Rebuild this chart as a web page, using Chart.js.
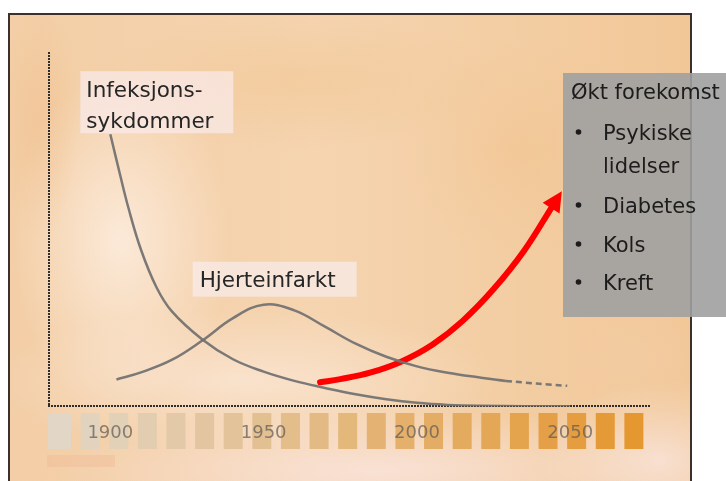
<!DOCTYPE html>
<html>
<head>
<meta charset="utf-8">
<script src="https://cdn.jsdelivr.net/npm/chart.js@4/dist/chart.umd.min.js"></script>
<style>
  html, body { margin: 0; padding: 0; background: #fff; overflow: hidden; }
  canvas { display: block; }
</style>
</head>
<body>
<canvas id="chart" width="726" height="481"></canvas>
<script>
// Year ticks on the time axis
const tickYears = [1900, 1950, 2000, 2050];

// Infectious diseases: steep fall early in the century
const infectionYears  = [1900, 1903, 1906, 1910, 1915, 1920, 1930, 1940, 1950, 1960, 1970, 1980, 1990, 2000, 2010, 2020, 2050];
const infectionValues = [76.8, 66.0, 55.7, 44.2, 33.7, 26.9, 18.9, 13.3, 9.8, 7.2, 5.2, 3.4, 2.0, 1.0, 0.42, 0.17, 0.03];

// Heart attacks: rise, peak mid-century, decline (projection after 2029)
const heartYears  = [1902, 1910, 1920, 1930, 1940, 1950, 1960, 1970, 1980, 1990, 2000, 2010, 2020, 2029, 2049];
const heartValues = [7.6, 9.6, 13.1, 18.6, 24.9, 28.7, 27.1, 22.5, 17.7, 14.0, 11.3, 9.5, 8.2, 7.2, 5.8];
const heartProjectedFrom = 2029;

// Rising occurrence of chronic conditions
const trendYears  = [1968.4, 1975, 1985, 1995, 2005, 2015, 2025, 2035, 2044.1];
const trendValues = [6.8, 7.7, 9.6, 12.7, 17.4, 24.2, 33.1, 44.0, 56.4];

// Text
const infectionLabel = ['Infeksjons-', 'sykdommer'];
const heartLabel = 'Hjerteinfarkt';
const boxTitle = 'Økt forekomst';
const boxItems = [['Psykiske', 'lidelser'], ['Diabetes'], ['Kols'], ['Kreft']];

const FONT = '"DejaVu Sans", Verdana, sans-serif';
const GREY_LINE = 'rgba(112,112,112,0.92)';

const toPoints = (xs, ys) => xs.map((x, i) => ({ x, y: ys[i] }));

// Watercolour-like paper, frame and the strip of year blocks
const backdrop = {
  id: 'backdrop',
  beforeDraw(chart) {
    const { ctx, width, height, chartArea } = chart;
    ctx.save();
    ctx.fillStyle = '#fff';
    ctx.fillRect(0, 0, width, height);

    const fx = 9, fy = 14, fw = 682, fh = height - fy + 6;
    ctx.beginPath();
    ctx.rect(fx, fy, fw, fh);
    ctx.clip();

    const g = ctx.createLinearGradient(fx, 0, fx + fw, 0);
    g.addColorStop(0, '#f3cea6');
    g.addColorStop(0.45, '#f5d4b0');
    g.addColorStop(1, '#f1c797');
    ctx.fillStyle = g;
    ctx.fillRect(fx, fy, fw, fh);

    const blot = (x, y, rx, ry, rgb, a) => {
      ctx.save();
      ctx.translate(x, y);
      ctx.scale(1, ry / rx);
      const rg = ctx.createRadialGradient(0, 0, 0, 0, 0, rx);
      rg.addColorStop(0, `rgba(${rgb},${a})`);
      rg.addColorStop(1, `rgba(${rgb},0)`);
      ctx.fillStyle = rg;
      ctx.fillRect(-rx, -rx, 2 * rx, 2 * rx);
      ctx.restore();
    };
    blot(120, 240, 110, 170, '255,244,236', 0.7);
    blot(240, 380, 260, 70, '252,236,224', 0.6);
    blot(380, 470, 330, 60, '250,230,226', 0.75);
    blot(660, 460, 120, 80, '250,232,228', 0.7);
    blot(300, 80, 200, 70, '240,190,130', 0.35);
    blot(520, 150, 120, 110, '240,188,128', 0.3);
    blot(640, 360, 80, 60, '244,206,170', 0.4);
    blot(40, 120, 40, 120, '238,184,130', 0.35);

    // soft salmon swatch below the first block
    ctx.fillStyle = 'rgba(240,186,150,0.45)';
    ctx.fillRect(47, 455, 68, 12);

    // year blocks
    const n = 21;
    const step = (chartArea.right - chartArea.left) / n;
    const c0 = [226, 214, 198], c1 = [229, 151, 48];
    for (let i = 0; i < n; i++) {
      const t = i / (n - 1);
      const c = c0.map((v, k) => Math.round(v + (c1[k] - v) * t));
      ctx.fillStyle = `rgb(${c[0]},${c[1]},${c[2]})`;
      const x = chartArea.left + i * step + (i === 0 ? -1 : 3);
      const w = i === 0 ? 23 : 19;
      ctx.fillRect(x, 413, w, 36);
    }
    ctx.restore();

    // frame
    ctx.save();
    ctx.strokeStyle = '#3b302a';
    ctx.lineWidth = 2;
    ctx.strokeRect(fx, fy, fw, fh);
    ctx.restore();
  }
};

// Dotted axis lines along the plot area's left and bottom edges
const dottedAxes = {
  id: 'dottedAxes',
  beforeDatasetsDraw(chart) {
    const { ctx, chartArea: a } = chart;
    const x0 = Math.round(a.left) - 1, y0 = Math.round(a.bottom) - 1;
    ctx.save();
    ctx.fillStyle = '#2f2d2b';
    for (let y = Math.round(a.top); y <= y0; y += 3) ctx.fillRect(x0, y, 2, 2);
    for (let x = x0; x <= Math.round(a.right); x += 3) ctx.fillRect(x, y0, 2, 2);
    ctx.restore();
  }
};

// Arrowhead at the end of the rising curve
const arrowHead = {
  id: 'arrowHead',
  afterDatasetsDraw(chart) {
    const pts = chart.getDatasetMeta(2).data;
    const a = pts[pts.length - 2], b = pts[pts.length - 1];
    const ang = Math.atan2(b.y - a.y, b.x - a.x);
    const dx = Math.cos(ang), dy = Math.sin(ang);
    const len = 20, half = 10;
    const bx = b.x - dx * 2, by = b.y - dy * 2;
    const { ctx } = chart;
    ctx.save();
    ctx.fillStyle = '#ff0000';
    ctx.beginPath();
    ctx.moveTo(bx + dx * len, by + dy * len);
    ctx.lineTo(bx - dy * half, by + dx * half);
    ctx.lineTo(bx + dy * half, by - dx * half);
    ctx.closePath();
    ctx.fill();
    ctx.restore();
  }
};

// Curve labels and the list box
const annotations = {
  id: 'annotations',
  afterDraw(chart) {
    const { ctx } = chart;
    ctx.save();
    ctx.textBaseline = 'alphabetic';
    ctx.textAlign = 'left';

    // infection label above the start of its curve
    const p0 = chart.getDatasetMeta(0).data[0];
    ctx.fillStyle = 'rgba(250,234,234,0.72)';
    ctx.fillRect(p0.x - 30, p0.y - 63, 153, 62);
    ctx.fillStyle = '#262626';
    ctx.font = `21.5px ${FONT}`;
    ctx.fillText(infectionLabel[0], p0.x - 24, p0.y - 37);
    ctx.fillText(infectionLabel[1], p0.x - 24, p0.y - 6);

    // heart label above the peak
    const hMeta = chart.getDatasetMeta(1).data;
    const peakIdx = heartValues.indexOf(Math.max(...heartValues));
    const pk = hMeta[peakIdx];
    ctx.fillStyle = 'rgba(250,236,234,0.72)';
    ctx.fillRect(pk.x - 71, pk.y - 43, 164, 35);
    ctx.fillStyle = '#262626';
    ctx.fillText(heartLabel, pk.x - 64, pk.y - 18);

    // grey list box
    ctx.fillStyle = 'rgba(160,160,160,0.9)';
    ctx.fillRect(563, 73, 170, 244);
    ctx.fillStyle = '#1c1c1c';
    ctx.font = `21px ${FONT}`;
    ctx.fillText(boxTitle, 571, 99);
    const baselines = [[140, 173], [213], [252], [290]];
    boxItems.forEach((lines, i) => {
      ctx.beginPath();
      ctx.arc(578.5, baselines[i][0] - 8, 2.8, 0, Math.PI * 2);
      ctx.fill();
      lines.forEach((t, j) => ctx.fillText(t, 603, baselines[i][j]));
    });
    ctx.restore();
  }
};

new Chart(document.getElementById('chart'), {
  type: 'line',
  data: {
    datasets: [
      {
        label: 'Infeksjonssykdommer',
        data: toPoints(infectionYears, infectionValues),
        borderColor: GREY_LINE,
        borderWidth: 2.5,
        pointRadius: 0,
        tension: 0.4
      },
      {
        label: 'Hjerteinfarkt',
        data: toPoints(heartYears, heartValues),
        borderColor: GREY_LINE,
        borderWidth: 2.5,
        pointRadius: 0,
        tension: 0.4,
        segment: {
          borderDash: c => (c.p0.parsed.x >= heartProjectedFrom ? [6, 4] : undefined)
        }
      },
      {
        label: boxTitle,
        data: toPoints(trendYears, trendValues),
        borderColor: '#ff0000',
        borderWidth: 6,
        borderCapStyle: 'round',
        pointRadius: 0,
        tension: 0.4
      }
    ]
  },
  options: {
    responsive: false,
    animation: false,
    devicePixelRatio: 1,
    layout: { padding: { left: 49, right: 76, top: 52, bottom: 21 } },
    plugins: { legend: { display: false }, tooltip: { enabled: false } },
    scales: {
      x: {
        type: 'linear',
        min: 1880,
        max: 2076,
        afterBuildTicks: s => { s.ticks = tickYears.map(v => ({ value: v })); },
        grid: { display: false, drawTicks: false },
        border: { display: false },
        ticks: {
          padding: 16,
          color: 'rgba(96,90,84,0.72)',
          font: { family: FONT, size: 18 },
          callback: v => String(v)
        }
      },
      y: {
        min: 0,
        max: 100,
        grid: { display: false, drawTicks: false },
        ticks: { display: false },
        border: { display: false }
      }
    }
  },
  plugins: [backdrop, dottedAxes, arrowHead, annotations]
});
</script>
</body>
</html>
